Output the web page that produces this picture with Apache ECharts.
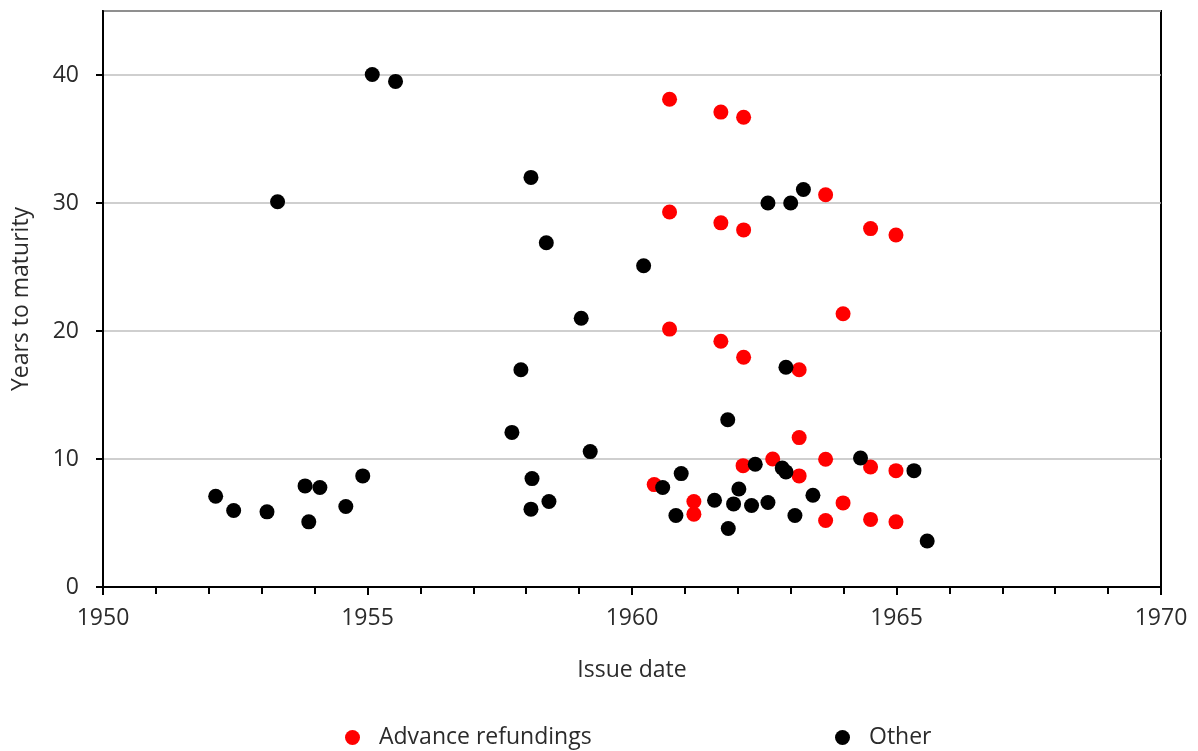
<!DOCTYPE html>
<html>
<head>
<meta charset="utf-8">
<script src="https://cdn.jsdelivr.net/npm/echarts@6/dist/echarts.min.js"></script>
<style>html,body{margin:0;padding:0;background:#fff;}#c{width:1198px;height:751px;}</style>
</head>
<body>
<div id="c"></div>
<script>
// Advance refundings: issue date (year) and years to maturity
const advDate = [1960.71, 1961.68, 1962.11, 1960.71, 1961.68, 1962.11, 1963.66, 1964.51, 1964.99,
  1960.71, 1963.99, 1961.68, 1962.11, 1963.16, 1963.16, 1962.10, 1962.66, 1963.16, 1963.66,
  1964.51, 1964.99, 1960.42, 1961.17, 1961.17, 1963.66, 1963.99, 1964.51, 1964.99];
const advYears = [38.1, 37.1, 36.7, 29.3, 28.45, 27.9, 30.65, 28.0, 27.5,
  20.15, 21.35, 19.2, 17.95, 16.97, 11.67, 9.48, 10.0, 8.68, 9.98,
  9.38, 9.09, 8.0, 6.68, 5.69, 5.2, 6.57, 5.28, 5.09];
// Other issues
const othDate = [1953.30, 1955.09, 1955.53, 1958.09, 1962.57, 1963.00, 1963.24, 1958.38, 1960.22,
  1959.04, 1962.91, 1961.81, 1957.90, 1957.73, 1959.21, 1962.33, 1962.84, 1962.91, 1964.32,
  1965.33, 1958.11, 1958.09, 1958.43, 1960.58, 1960.93, 1960.83, 1961.56, 1961.92, 1962.02,
  1961.82, 1962.26, 1962.57, 1963.08, 1963.42, 1965.58,
  1952.13, 1952.47, 1953.10, 1953.82, 1954.10, 1953.89, 1954.59, 1954.91];
const othYears = [30.1, 40.04, 39.5, 32.0, 30.0, 30.0, 31.05, 26.9, 25.1,
  21.0, 17.17, 13.07, 16.97, 12.08, 10.58, 9.59, 9.3, 8.99, 10.08,
  9.09, 8.47, 6.08, 6.68, 7.77, 8.86, 5.59, 6.78, 6.49, 7.66,
  4.57, 6.37, 6.60, 5.59, 7.17, 3.59,
  7.09, 5.98, 5.87, 7.9, 7.77, 5.09, 6.29, 8.68];
const seriesNames = ['Advance refundings', 'Other'];
const seriesColors = ['#ff0000', '#000000'];

const zip = (a, b) => a.map((v, i) => [v, b[i]]);
const FONT = 'Open Sans';
const FS = 23;
const TXT = '#2b2b2b';
const chart = echarts.init(document.getElementById('c'));
chart.setOption({
  animation: false,
  backgroundColor: '#fff',
  textStyle: { fontFamily: FONT },
  grid: { left: 103, right: 37, top: 11, bottom: 164, show: true, borderColor: '#000', borderWidth: 2 },
  xAxis: {
    type: 'value', min: 1950, max: 1970, interval: 5,
    name: 'Issue date', nameLocation: 'middle', nameGap: 72,
    nameTextStyle: { fontFamily: FONT, fontSize: FS, color: TXT },
    axisLine: { show: true, onZero: false, lineStyle: { color: '#000', width: 2 } },
    axisTick: { show: true, length: 8, lineStyle: { color: '#000', width: 2 } },
    minorTick: { show: true, splitNumber: 5, length: 7, lineStyle: { color: '#000', width: 2 } },
    axisLabel: { margin: 20, fontFamily: FONT, fontSize: FS, color: TXT, formatter: v => String(v) },
    splitLine: { show: false }
  },
  yAxis: {
    type: 'value', min: 0, max: 45, interval: 10,
    name: 'Years to maturity', nameLocation: 'middle', nameGap: 70,
    nameTextStyle: { fontFamily: FONT, fontSize: FS, color: TXT },
    axisLine: { show: true, lineStyle: { color: '#000', width: 2 } },
    axisTick: { show: true, length: 7, lineStyle: { color: '#000', width: 2 } },
    axisLabel: { margin: 24, fontFamily: FONT, fontSize: FS, color: TXT, showMaxLabel: false },
    splitLine: { show: true, lineStyle: { color: '#bfbfbf', width: 1.5 } }
  },
  legend: [
    { data: [seriesNames[0]], left: 340, top: 721, icon: 'circle', itemWidth: 15, itemHeight: 15,
      textStyle: { fontFamily: FONT, fontSize: FS, color: TXT, padding: [0, 0, 0, 14] } },
    { data: [seriesNames[1]], left: 830, top: 721, icon: 'circle', itemWidth: 15, itemHeight: 15,
      textStyle: { fontFamily: FONT, fontSize: FS, color: TXT, padding: [0, 0, 0, 14] } }
  ],
  series: [
    { name: seriesNames[0], type: 'scatter', data: zip(advDate, advYears), symbolSize: 15,
      itemStyle: { color: seriesColors[0], opacity: 1 } },
    { name: seriesNames[1], type: 'scatter', data: zip(othDate, othYears), symbolSize: 15,
      itemStyle: { color: seriesColors[1], opacity: 1 } }
  ]
});
</script>
</body>
</html>
